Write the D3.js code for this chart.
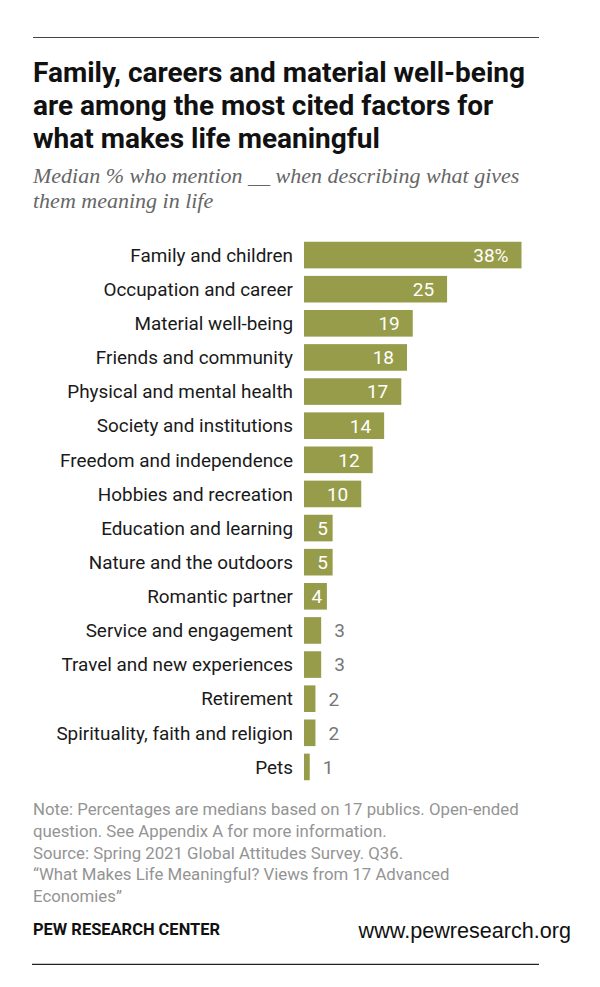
<!DOCTYPE html>
<html>
<head>
<meta charset="utf-8">
<script src="https://cdn.jsdelivr.net/npm/d3@7"></script>
<style>
  html, body { margin: 0; padding: 0; background: #fff; }
  svg { display: block; }
</style>
</head>
<body>
<svg id="chart" width="600" height="987"></svg>
<script>
const categories = [
  "Family and children",
  "Occupation and career",
  "Material well-being",
  "Friends and community",
  "Physical and mental health",
  "Society and institutions",
  "Freedom and independence",
  "Hobbies and recreation",
  "Education and learning",
  "Nature and the outdoors",
  "Romantic partner",
  "Service and engagement",
  "Travel and new experiences",
  "Retirement",
  "Spirituality, faith and religion",
  "Pets"
];
const values = [38, 25, 19, 18, 17, 14, 12, 10, 5, 5, 4, 3, 3, 2, 2, 1];

const titleLines = [
  "Family, careers and material well-being",
  "are among the most cited factors for",
  "what makes life meaningful"
];
const subtitleLines = [
  "Median % who mention __ when describing what gives",
  "them meaning in life"
];
const noteLines = [
  "Note: Percentages are medians based on 17 publics. Open-ended",
  "question. See Appendix A for more information.",
  "Source: Spring 2021 Global Attitudes Survey. Q36.",
  "\u201CWhat Makes Life Meaningful? Views from 17 Advanced",
  "Economies\u201D"
];

const svg = d3.select("#chart");
const barColor = "#979c4a";

// rules
svg.append("line").attr("x1", 33).attr("x2", 539).attr("y1", 37.5).attr("y2", 37.5)
  .attr("stroke", "#444").attr("stroke-width", 1.2);
svg.append("line").attr("x1", 32).attr("x2", 539).attr("y1", 964.3).attr("y2", 964.3)
  .attr("stroke", "#222").attr("stroke-width", 1.2);

// title
svg.append("g").selectAll("text").data(titleLines).join("text")
  .attr("x", 33).attr("y", (d, i) => 82.3 + i * 32.7)
  .attr("font-family", "Roboto, sans-serif")
  .attr("font-weight", "bold").attr("font-size", 28).attr("fill", "#111")
  .text(d => d);

// subtitle
svg.append("g").selectAll("text").data(subtitleLines).join("text")
  .attr("x", 33).attr("y", (d, i) => 183.3 + i * 25)
  .attr("font-family", "'Liberation Serif', serif")
  .attr("font-style", "italic").attr("font-size", 22).attr("fill", "#666")
  .text(d => d);

// chart
const x = d3.scaleLinear().domain([0, 38]).range([304, 521.5]);
const y = d3.scaleBand().domain(categories).range([238, 784]).paddingInner(0.22).paddingOuter(0.11);

const g = svg.append("g");
g.selectAll("rect").data(values).join("rect")
  .attr("x", x(0)).attr("y", (d, i) => y(categories[i]))
  .attr("width", d => x(d) - x(0)).attr("height", y.bandwidth())
  .attr("fill", barColor);

g.selectAll("text.cat").data(categories).join("text").attr("class", "cat")
  .attr("x", 293).attr("y", d => y(d) + y.bandwidth() / 2)
  .attr("dy", "0.36em").attr("text-anchor", "end")
  .attr("font-family", "Roboto, sans-serif").attr("font-size", 18.9).attr("fill", "#1a1a1a")
  .text(d => d);

const inside = d => d >= 4;
const pad = d => (x(d) - x(0)) < 40 ? 4.7 : 13;
g.selectAll("text.val").data(values).join("text").attr("class", "val")
  .attr("x", d => inside(d) ? x(d) - pad(d) : x(d) + 13)
  .attr("y", (d, i) => y(categories[i]) + y.bandwidth() / 2)
  .attr("dy", "0.36em")
  .attr("text-anchor", d => inside(d) ? "end" : "start")
  .attr("font-family", "Roboto, sans-serif").attr("font-size", 19)
  .attr("fill", d => inside(d) ? "#fff" : "#777")
  .text((d, i) => i === 0 ? d + "%" : d);

// notes
svg.append("g").selectAll("text").data(noteLines).join("text")
  .attr("x", 33).attr("y", (d, i) => 815 + i * 21.8)
  .attr("font-family", "Roboto, sans-serif").attr("font-size", 16.8).attr("fill", "#949494")
  .text(d => d);

svg.append("text").attr("x", 33).attr("y", 935)
  .attr("font-family", "Roboto, sans-serif")
  .attr("font-weight", "bold").attr("font-size", 16.5).attr("fill", "#111")
  .attr("textLength", 187).attr("lengthAdjust", "spacingAndGlyphs")
  .text("PEW RESEARCH CENTER");

svg.append("text").attr("x", 571).attr("y", 938.3).attr("text-anchor", "end")
  .attr("font-family", "'Liberation Sans', Arial, sans-serif")
  .attr("font-size", 21.6).attr("fill", "#111")
  .text("www.pewresearch.org");
</script>
</body>
</html>
